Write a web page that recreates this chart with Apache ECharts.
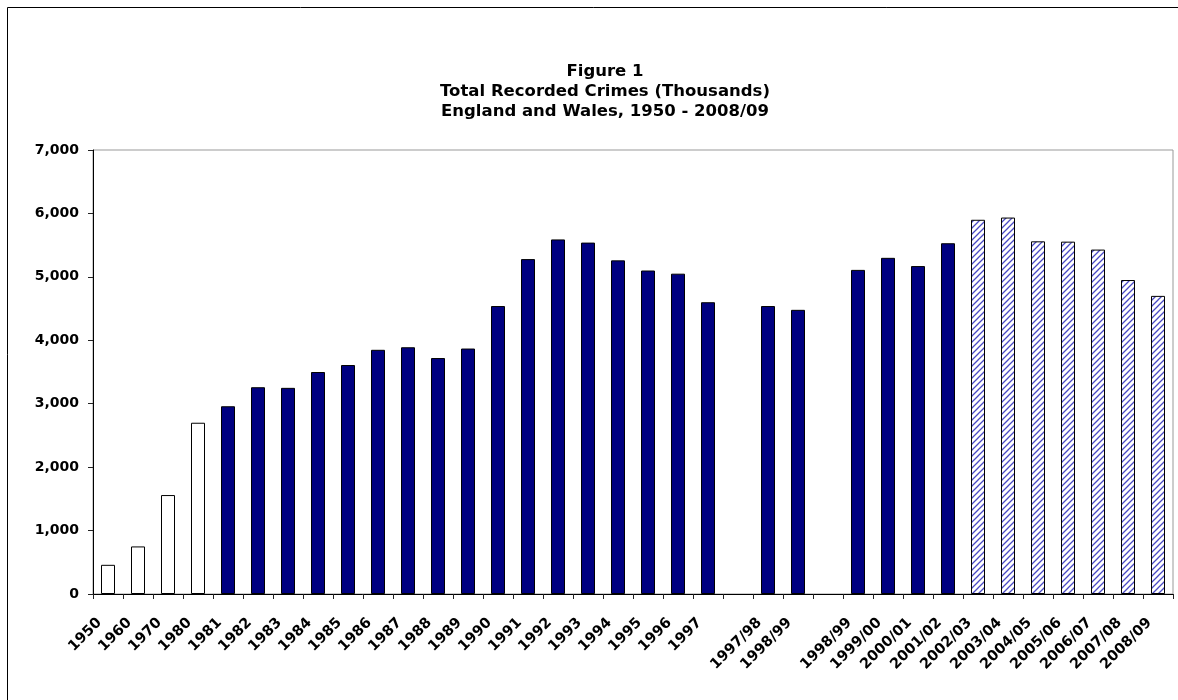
<!DOCTYPE html>
<html>
<head>
<meta charset="utf-8">
<title>Total Recorded Crimes</title>
<script src="https://cdn.jsdelivr.net/npm/echarts@6/dist/echarts.min.js"></script>
<style>
  html, body { margin: 0; padding: 0; background: #fff; }
  #chart { width: 1178px; height: 700px; }
</style>
</head>
<body>
<div id="chart"></div>
<script>
// Recorded crime in England and Wales (thousands).
// Empty category names leave a blank slot between counting-rule changes.
const categories = [
  '1950', '1960', '1970', '1980',
  '1981', '1982', '1983', '1984', '1985', '1986', '1987', '1988', '1989',
  '1990', '1991', '1992', '1993', '1994', '1995', '1996', '1997',
  '',
  '1997/98', '1998/99',
  '',
  '1998/99', '1999/00', '2000/01', '2001/02',
  '2002/03', '2003/04', '2004/05', '2005/06', '2006/07', '2007/08', '2008/09'
];

const crimes = [
  460, 750, 1560, 2700,
  2960, 3260, 3250, 3500, 3610, 3850, 3890, 3720, 3870,
  4540, 5280, 5590, 5540, 5260, 5100, 5050, 4600,
  null,
  4540, 4480,
  null,
  5110, 5300, 5170, 5530,
  5900, 5935, 5560, 5555, 5430, 4950, 4700
];

// Which recording basis each category belongs to.
const basis = [
  'decade', 'decade', 'decade', 'decade',
  'annual', 'annual', 'annual', 'annual', 'annual', 'annual', 'annual', 'annual', 'annual',
  'annual', 'annual', 'annual', 'annual', 'annual', 'annual', 'annual', 'annual',
  null,
  'annual', 'annual',
  null,
  'annual', 'annual', 'annual', 'annual',
  'ncrs', 'ncrs', 'ncrs', 'ncrs', 'ncrs', 'ncrs', 'ncrs'
];

const yMin = 0;
const yMax = 7000;
const yStep = 1000;

// Diagonal hatch used for the most recent years.
function hatchPattern() {
  const size = 6;
  const c = document.createElement('canvas');
  c.width = size; c.height = size;
  const g = c.getContext('2d');
  g.fillStyle = '#ffffff';
  g.fillRect(0, 0, size, size);
  g.strokeStyle = '#4a4ac4';
  g.lineWidth = 1.3;
  g.beginPath();
  g.moveTo(-1, size + 1); g.lineTo(size + 1, -1);
  g.moveTo(-1, 1); g.lineTo(1, -1);
  g.moveTo(size - 1, size + 1); g.lineTo(size + 1, size - 1);
  g.stroke();
  return c;
}

const fills = {
  decade: '#ffffff',
  annual: '#000080',
  ncrs: { image: hatchPattern(), repeat: 'repeat' }
};

function seriesFor(key) {
  return {
    type: 'bar',
    name: key,
    data: crimes.map((v, i) => (basis[i] === key ? v : null)),
    barWidth: 14,
    barGap: '-100%',
    itemStyle: { color: fills[key], borderColor: '#000', borderWidth: 1 },
    emphasis: { disabled: true },
    animation: false
  };
}

const font = 'DejaVu Sans';
const chart = echarts.init(document.getElementById('chart'));

chart.setOption({
  backgroundColor: '#ffffff',
  animation: false,
  title: {
    text: 'Figure 1\nTotal Recorded Crimes (Thousands)\nEngland and Wales, 1950 - 2008/09',
    left: 600,
    top: 57,
    textAlign: 'center',
    textStyle: {
      fontFamily: font,
      fontWeight: 'bold',
      fontSize: 16.5,
      lineHeight: 20,
      color: '#000'
    }
  },
  graphic: [{
    type: 'rect',
    shape: { x: 7.5, y: 7.5, width: 1200, height: 720 },
    style: { fill: 'none', stroke: '#000', lineWidth: 1 },
    silent: true
  }],
  grid: {
    left: 93, right: 5, top: 150, bottom: 106,
    show: true, borderColor: '#999', borderWidth: 1, backgroundColor: '#fff'
  },
  xAxis: {
    type: 'category',
    data: categories,
    boundaryGap: true,
    axisLine: { lineStyle: { color: '#000', width: 1 } },
    axisTick: { show: true, alignWithLabel: false, length: 5, inside: false, interval: 0,
                lineStyle: { color: '#222' } },
    axisLabel: {
      interval: 0,
      rotate: 45,
      margin: 18,
      padding: [0, 12, 0, 0],
      fontFamily: font,
      fontWeight: 'bold',
      fontSize: 14.5,
      color: '#000'
    },
    splitLine: { show: false }
  },
  yAxis: {
    type: 'value',
    min: yMin,
    max: yMax,
    interval: yStep,
    axisLine: { show: true, lineStyle: { color: '#000', width: 1 } },
    axisTick: { show: true, length: 5, lineStyle: { color: '#222' } },
    axisLabel: {
      margin: 14,
      fontFamily: font,
      fontWeight: 'bold',
      fontSize: 14,
      color: '#000',
      formatter: v => v.toLocaleString('en-US')
    },
    splitLine: { show: false }
  },
  series: ['decade', 'annual', 'ncrs'].map(seriesFor)
});
</script>
</body>
</html>
